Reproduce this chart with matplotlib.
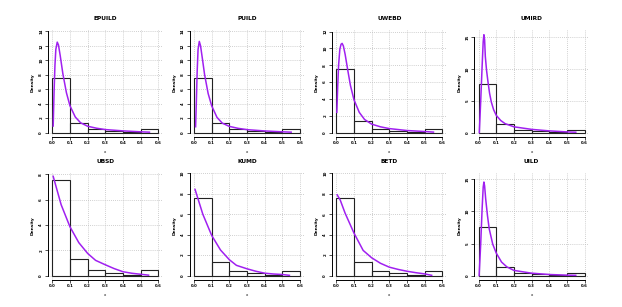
import matplotlib
matplotlib.use("Agg")
import matplotlib.pyplot as plt
import numpy as np

W, H = 622, 307

titles = ["EPUILD", "PUILD", "UWEBD", "UMIRD", "UBSD", "KUMD", "BETD", "UILD"]

# histogram (same data in every panel): bin edges and density heights
bin_edges = [0.0, 0.1, 0.2, 0.3, 0.4, 0.5, 0.6]
hist_density = [7.58, 1.32, 0.46, 0.2, 0.05, 0.45]

# fitted density curves
epuild_x = [0.005, 0.01, 0.015, 0.02, 0.028, 0.035, 0.045, 0.06, 0.08, 0.1, 0.13, 0.16, 0.2, 0.25, 0.3, 0.4, 0.5, 0.55]
epuild_y = [0.9, 5.6, 9.3, 11.5, 12.5, 12.1, 10.6, 8.1, 5.5, 3.7, 2.15, 1.35, 0.87, 0.6, 0.41, 0.23, 0.1, 0.05]

puild_x = [0.009, 0.013, 0.018, 0.023, 0.03, 0.037, 0.047, 0.06, 0.08, 0.1, 0.13, 0.16, 0.2, 0.25, 0.3, 0.4, 0.5, 0.55]
puild_y = [0.8, 4.0, 8.5, 11.5, 12.6, 12.0, 10.3, 8.0, 5.4, 3.7, 2.1, 1.3, 0.85, 0.58, 0.4, 0.22, 0.1, 0.05]

uwebd_x = [0.003, 0.008, 0.013, 0.02, 0.027, 0.033, 0.04, 0.05, 0.065, 0.08, 0.1, 0.13, 0.16, 0.2, 0.25, 0.3, 0.4, 0.5, 0.55]
uwebd_y = [2.4, 5.5, 8.0, 9.9, 10.5, 10.6, 10.3, 9.3, 7.4, 5.6, 3.9, 2.4, 1.55, 1.0, 0.68, 0.47, 0.24, 0.12, 0.05]

umird_x = [0.004, 0.012, 0.02, 0.026, 0.03, 0.034, 0.038, 0.045, 0.053, 0.062, 0.072, 0.085, 0.1, 0.125, 0.15, 0.2, 0.3, 0.4, 0.5, 0.55]
umird_y = [0.0, 5.0, 10.5, 14.3, 15.4, 14.6, 12.0, 9.8, 8.0, 6.2, 4.8, 3.6, 2.7, 1.9, 1.4, 0.9, 0.5, 0.26, 0.1, 0.05]

ubsd_x = [0.005, 0.05, 0.1, 0.15, 0.2, 0.245, 0.3, 0.35, 0.4, 0.45, 0.5, 0.545]
ubsd_y = [7.84, 5.6, 3.85, 2.6, 1.75, 1.2, 0.85, 0.55, 0.3, 0.18, 0.1, 0.03]

kumd_x = [0.006, 0.05, 0.1, 0.15, 0.2, 0.24, 0.3, 0.35, 0.4, 0.45, 0.5, 0.54]
kumd_y = [8.43, 6.0, 3.93, 2.5, 1.55, 1.0, 0.66, 0.42, 0.23, 0.15, 0.1, 0.02]

betd_x = [0.005, 0.022, 0.05, 0.1, 0.152, 0.2, 0.25, 0.3, 0.35, 0.4, 0.45, 0.5, 0.54]
betd_y = [7.9, 7.4, 6.1, 4.16, 2.46, 1.74, 1.2, 0.82, 0.6, 0.42, 0.28, 0.16, 0.02]

uild_x = [0.003, 0.012, 0.02, 0.026, 0.03, 0.034, 0.04, 0.05, 0.06, 0.08, 0.1, 0.13, 0.16, 0.2, 0.3, 0.4, 0.5, 0.55]
uild_y = [0.0, 5.0, 10.5, 13.8, 14.6, 14.0, 12.0, 9.4, 7.3, 4.9, 3.5, 2.1, 1.35, 0.8, 0.37, 0.16, 0.06, 0.03]

curves_x = [epuild_x, puild_x, uwebd_x, umird_x, ubsd_x, kumd_x, betd_x, uild_x]
curves_y = [epuild_y, puild_y, uwebd_y, umird_y, ubsd_y, kumd_y, betd_y, uild_y]

y_ranges = [13.7, 13.7, 11.78, 15.6, 7.83, 9.7, 9.7, 15.47]
y_ticks = [list(range(0, 15, 2)), list(range(0, 15, 2)), list(range(0, 13, 2)), [0, 5, 10, 15],
           list(range(0, 9, 2)), list(range(0, 11, 2)), list(range(0, 11, 2)), [0, 5, 10, 15]]
x_ticks = [0.0, 0.1, 0.2, 0.3, 0.4, 0.5, 0.6]

col_x0 = [52.3, 194.0, 336.3, 478.6]
row_top = [29.5, 172.5]
row_bot = [136.5, 279.5]

fig = plt.figure(figsize=(W / 100, H / 100), dpi=100)
purple = "#A020F0"

for i in range(8):
    r, c = divmod(i, 4)
    x0 = col_x0[c]
    s = 106.0 / 0.6
    left = x0 - 0.024 * s
    right = x0 + 0.624 * s
    top, bot = row_top[r], row_bot[r]
    ax = fig.add_axes([left / W, 1 - bot / H, (right - left) / W, (bot - top) / H])
    rr = y_ranges[i]
    ax.set_xlim(-0.024, 0.624)
    ax.set_ylim(-0.04 * rr, 1.04 * rr)
    ax.set_xticks(x_ticks)
    ax.set_yticks(y_ticks[i])
    ax.set_xticklabels([f"{t:.1f}" for t in x_ticks], fontsize=2.8, fontweight="bold")
    ax.set_yticklabels([str(t) for t in y_ticks[i]], fontsize=2.8, fontweight="bold",
                       rotation=90, va="center")
    ax.tick_params(length=2, width=0.6, pad=1.5, color="#333333")
    for sp in ["top", "right"]:
        ax.spines[sp].set_visible(False)
    ax.spines["left"].set_bounds(0, y_ticks[i][-1])
    ax.spines["bottom"].set_bounds(0, 0.6)
    ax.spines["left"].set_linewidth(0.7)
    ax.spines["bottom"].set_linewidth(0.7)
    ax.set_axisbelow(True)
    ax.grid(True, color="#c0c0c0", linestyle=(0, (1, 1.5)), linewidth=0.6)
    widths = np.diff(bin_edges)
    ax.bar(bin_edges[:-1], hist_density, width=widths, align="edge", fill=False,
           edgecolor="#222222", linewidth=0.8, zorder=2)
    ax.plot(curves_x[i], curves_y[i], color=purple, linewidth=1.1, zorder=3)
    ax.set_title(titles[i], fontsize=4.2, fontweight="bold", pad=6.5)
    ax.set_xlabel("x", fontsize=2.8, labelpad=3)
    ax.set_ylabel("Density", fontsize=3.2, fontweight="bold", labelpad=3)

fig.savefig("out.png", dpi=100)
